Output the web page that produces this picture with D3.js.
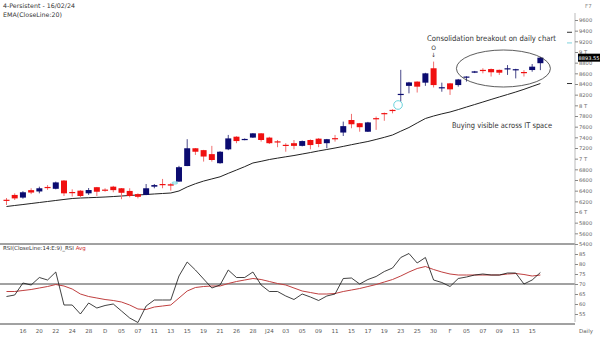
<!DOCTYPE html>
<html>
<head>
<meta charset="utf-8">
<script src="https://cdn.jsdelivr.net/npm/d3@7"></script>
<style>
  html, body { margin: 0; padding: 0; background: #fff; }
  svg { display: block; }
  text { font-family: "DejaVu Sans", "Liberation Sans", sans-serif; }
</style>
</head>
<body>
<div id="chart"></div>
<script>
// Daily OHLC, 4-Persistent (Nov 2023 - 16 Feb 2024)
const open = [6230,6320,6270,6410,6385,6470,6435,6590,6375,6400,6350,6465,6420,6475,6445,6395,6335,6320,6475,6525,6520,6570,6862,7195,7160,7085,6915,7175,7412,7350,7395,7475,7395,7325,7260,7290,7240,7350,7375,7290,7385,7490,7725,7665,7505,7760,7855,7915,8205,8365,8445,8425,8695,8335,8412,8380,8530,8612,8665,8680,8665,8690,8670,8625,8662,8790];
const high = [6262,6350,6390,6445,6475,6505,6570,6600,6425,6410,6450,6470,6445,6490,6450,6445,6350,6525,6525,6620,6540,6865,7365,7200,7165,7240,7140,7445,7420,7380,7480,7480,7410,7350,7290,7350,7340,7360,7385,7370,7445,7695,7840,7670,7690,7790,7865,7925,8665,8440,8450,8610,8820,8425,8420,8495,8545,8645,8695,8690,8670,8755,8685,8660,8775,8910];
const low = [6131,6225,6250,6335,6350,6415,6425,6300,6290,6275,6320,6300,6380,6370,6240,6275,6255,6315,6445,6445,6400,6565,6860,7070,6945,6945,6905,7160,7290,7345,7390,7320,7275,7215,7130,7175,7230,7175,7215,7195,7320,7425,7570,7505,7500,7540,7710,7850,8070,8225,8240,8365,8335,8255,8195,8350,8445,8605,8600,8540,8570,8570,8505,8540,8630,8660];
const close = [6220,6255,6370,6365,6445,6455,6555,6350,6365,6300,6412,6380,6405,6410,6360,6300,6285,6445,6505,6512,6495,6840,7195,7130,7040,6975,7130,7380,7330,7370,7475,7350,7290,7315,7250,7240,7330,7255,7275,7365,7375,7610,7645,7590,7680,7750,7845,7905,8215,8430,8350,8600,8380,8340,8300,8485,8540,8637,8655,8620,8612,8695,8678,8615,8725,8893.55];

// EMA(CloseLine:20)
const ema20 = [6103,6122,6140,6159,6178,6197,6216,6235,6253,6262,6268,6274,6281,6290,6300,6310,6319,6328,6338,6347,6356,6394,6470,6530,6580,6620,6660,6725,6787,6850,6919,6950,6984,7010,7035,7059,7087,7115,7145,7172,7200,7230,7262,7292,7322,7360,7400,7444,7515,7584,7670,7753,7800,7840,7875,7920,7968,8015,8062,8110,8157,8203,8250,8300,8355,8409];

// RSI(14) and its average
const rsi = [63.75,64.5,70.5,69.5,73.25,72,76,59.5,59.5,55,60.5,58,59.25,60,56.5,53,50.75,59,62,62,62,74,81,77,72.5,68,69.5,77,73.25,73.25,76,69.5,66.25,66.25,64,62.25,65,63.5,61.75,64,65,72.75,73,70,72.25,73.75,76.25,78,83.25,85.25,80.5,83.25,72,70.75,68.75,72.75,73.5,74.5,75,74.5,74.5,75.5,75.5,70,72,75.75];
const rsiAvg = [66.25,66.25,66.75,67.25,68,68.75,69.75,69,67.5,65,63.75,63,62.25,61.75,61,59.5,57.5,57.25,58.5,59,59.5,63,66.5,68.25,68.75,69,69,70.25,71.25,72,72.75,72.25,71.25,70.25,69.5,68,66.5,65.75,65,65,65.25,66.25,67,67.75,68.75,69.75,71,72.25,74,76,77.75,78.75,77.25,76,75,74.5,74.5,74.5,74.5,74.5,74.5,75,75.25,74.75,74,74.5];

// Date labels, one on every second session starting with the third
const tickLabels = ["16","20","22","24","28","D","05","07","11","13","15","19","21","26","28","J24","03","05","09","11","15","17","19","23","25","30","F","05","07","09","13","15"];

const priceTicks = d3.range(5400, 9601, 200);
const rsiTicks = [55, 60, 65, 70, 75, 80, 85];
const rsiLevel = 70;
// markers drawn against the price axis (other study values)
const axisMarks = [{v: 9370, c: "#333"}, {v: 9170, c: "#7fd3dc"}];

const W = 600, H = 338;
const axisX = 575;
const n = close.length;

const svg = d3.select("#chart").append("svg").attr("width", W).attr("height", H);

const x = d3.scaleBand().domain(d3.range(n)).range([3.5, 3.5 + n * 8.18]).paddingInner(0.27);
const cx = i => x(i) + x.bandwidth() / 2;
const y = d3.scaleLinear().domain([5400, 9600]).range([244, 20]);
const yr = d3.scaleLinear().domain([50, 90]).range([324, 244]);

// headers
svg.append("text").attr("x", 3).attr("y", 8).attr("font-size", 6.3).attr("fill", "#333").text("4-Persistent - 16/02/24");
svg.append("text").attr("x", 3).attr("y", 17).attr("font-size", 6.3).attr("fill", "#333").text("EMA(CloseLine:20)");
svg.append("text").attr("x", 585).attr("y", 8).attr("font-size", 5.5).attr("fill", "#888").text("F7");

// panel lines
[244, yr(rsiLevel), 324].forEach(v => {
  svg.append("line").attr("x1", 0).attr("x2", axisX).attr("y1", v).attr("y2", v)
    .attr("stroke", "#444").attr("stroke-width", 1);
});
svg.append("line").attr("x1", axisX).attr("x2", axisX).attr("y1", 13).attr("y2", 322)
  .attr("stroke", "#bbb").attr("stroke-width", 1);

// price axis
const yAxis = d3.axisRight(y).tickValues(priceTicks).tickSize(3).tickPadding(1)
  .tickFormat(v => v % 1000 === 0 ? (v / 1000) + " T" : String(v));
const ga = svg.append("g").attr("transform", `translate(${axisX},0)`).call(yAxis);
ga.select(".domain").remove();
ga.selectAll("line").attr("stroke", "#888");
ga.selectAll("text").attr("font-size", 5.2).attr("fill", "#666").attr("font-family", "DejaVu Sans");

// RSI axis
const rAxis = d3.axisRight(yr).tickValues(rsiTicks).tickSize(3).tickPadding(1);
const gr = svg.append("g").attr("transform", `translate(${axisX},0)`).call(rAxis);
gr.select(".domain").remove();
gr.selectAll("line").attr("stroke", "#888");
gr.selectAll("text").attr("font-size", 5.2).attr("fill", "#666").attr("font-family", "DejaVu Sans");

// date axis
const xAxis = d3.axisBottom(x).tickValues(tickLabels.map((_, k) => 2 + 2 * k)).tickSize(0).tickPadding(5)
  .tickFormat(i => tickLabels[(i - 2) / 2]);
const gx = svg.append("g").attr("transform", "translate(0,324)").call(xAxis);
gx.select(".domain").remove();
gx.selectAll("text").attr("font-size", 5.5).attr("fill", "#555").attr("font-family", "DejaVu Sans");
svg.append("text").attr("x", 579).attr("y", 333).attr("font-size", 5.5).attr("fill", "#666").text("Daily");

// EMA line
svg.append("path").datum(ema20)
  .attr("d", d3.line().x((d, i) => cx(i)).y(d => y(d)))
  .attr("fill", "none").attr("stroke", "#222").attr("stroke-width", 1);

// candles
const UP = "#0b0b70", DOWN = "#f01010";
const g = svg.append("g");
const idx = d3.range(n);
g.selectAll("line.wick").data(idx).join("line")
  .attr("x1", cx).attr("x2", cx)
  .attr("y1", i => y(high[i])).attr("y2", i => y(low[i]))
  .attr("stroke", i => close[i] >= open[i] ? "#4a4a8a" : "#f07070").attr("stroke-width", 1);
g.selectAll("rect.body").data(idx).join("rect")
  .attr("x", i => x(i)).attr("width", x.bandwidth())
  .attr("y", i => y(Math.max(open[i], close[i])))
  .attr("height", i => Math.max(1.2, Math.abs(y(open[i]) - y(close[i]))))
  .attr("fill", i => close[i] >= open[i] ? UP : DOWN);

// markers by the axis
svg.append("line").attr("x1", 567).attr("x2", 572).attr("y1", y(ema20[n - 1])).attr("y2", y(ema20[n - 1])).attr("stroke", "#333");
axisMarks.forEach(m => svg.append("line").attr("x1", 567).attr("x2", 572).attr("y1", y(m.v)).attr("y2", y(m.v)).attr("stroke", m.c));

// last close tag
const last = close[n - 1];
svg.append("rect").attr("x", 578).attr("y", y(last) - 4).attr("width", 22).attr("height", 8).attr("fill", "#000");
svg.append("text").attr("x", 578.5).attr("y", y(last) + 2).attr("font-size", 5.2).attr("fill", "#fff")
  .attr("textLength", 21).attr("lengthAdjust", "spacingAndGlyphs").text(last.toFixed(2));

// annotations
svg.append("text").attr("x", 427).attr("y", 41).attr("font-size", 7.8).attr("fill", "#333")
  .attr("font-family", "Liberation Sans, Arial, sans-serif")
  .attr("textLength", 129).attr("lengthAdjust", "spacingAndGlyphs").text("Consolidation breakout on daily chart");
svg.append("text").attr("x", 452).attr("y", 128).attr("font-size", 7.8).attr("fill", "#333")
  .attr("font-family", "Liberation Sans, Arial, sans-serif")
  .attr("textLength", 100).attr("lengthAdjust", "spacingAndGlyphs").text("Buying visible across IT space");
svg.append("ellipse").attr("cx", (cx(57) + cx(64)) / 2).attr("cy", 68.5).attr("rx", 47).attr("ry", 18.5)
  .attr("fill", "none").attr("stroke", "#333").attr("stroke-width", 0.8);
svg.append("text").attr("x", cx(52)).attr("y", 50).attr("text-anchor", "middle").attr("font-size", 6).attr("fill", "#333").text("O");
svg.append("text").attr("x", cx(52)).attr("y", 57).attr("text-anchor", "middle").attr("font-size", 6).attr("fill", "#333").text("↓");
svg.append("circle").attr("cx", cx(47) + 5.5).attr("cy", 105).attr("r", 4.3)
  .attr("fill", "none").attr("stroke", "#6cd4dd").attr("stroke-width", 1);
svg.append("ellipse").attr("cx", cx(20) + 4).attr("cy", 183).attr("rx", 3).attr("ry", 1)
  .attr("fill", "none").attr("stroke", "#6cd4dd").attr("stroke-width", 1);

// RSI panel
svg.append("text").attr("x", 3).attr("y", 250).attr("font-size", 5.5).attr("fill", "#333")
  .text("RSI(CloseLine:14:E:9)_RSI ")
  .append("tspan").attr("fill", "#d03030").text("Avg");
svg.append("path").datum(rsiAvg)
  .attr("d", d3.line().x((d, i) => cx(i)).y(d => yr(d)))
  .attr("fill", "none").attr("stroke", "#c04040").attr("stroke-width", 1);
svg.append("path").datum(rsi)
  .attr("d", d3.line().x((d, i) => cx(i)).y(d => yr(d)))
  .attr("fill", "none").attr("stroke", "#111").attr("stroke-width", 0.8);
</script>
</body>
</html>
